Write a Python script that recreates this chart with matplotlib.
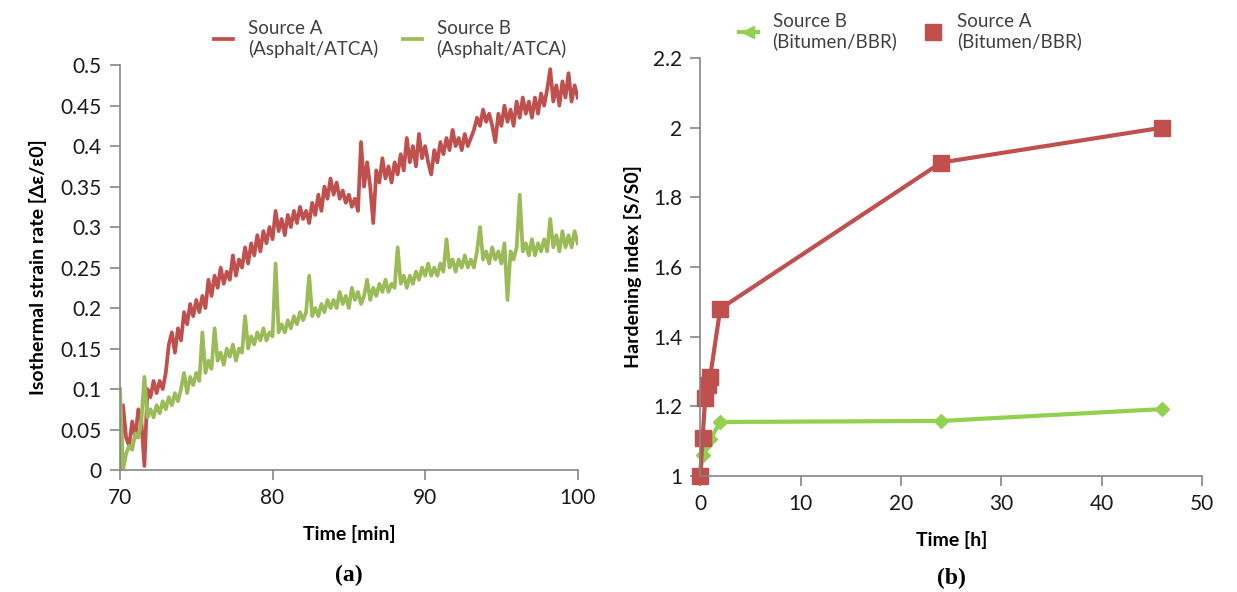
import numpy as np
import matplotlib.pyplot as plt
from matplotlib.lines import Line2D

plt.rcParams['font.family'] = ['Lato', 'DejaVu Sans']

# ---- (a) isothermal strain rate, asphalt / ATCA ----
time_min = np.round(np.arange(70.0, 100.01, 0.2), 1)

rate_a = [
    0.00, 0.08, 0.04, 0.03, 0.06, 0.04, 0.075, 0.06, 0.005, 0.10,
    0.09, 0.11, 0.095, 0.11, 0.10, 0.12, 0.155, 0.17, 0.145, 0.175,
    0.16, 0.195, 0.18, 0.205, 0.19, 0.21, 0.195, 0.215, 0.20, 0.235,
    0.215, 0.24, 0.225, 0.25, 0.23, 0.245, 0.235, 0.265, 0.24, 0.26,
    0.25, 0.275, 0.255, 0.28, 0.265, 0.29, 0.27, 0.295, 0.28, 0.30,
    0.285, 0.32, 0.295, 0.31, 0.29, 0.315, 0.30, 0.32, 0.305, 0.325,
    0.31, 0.32, 0.305, 0.33, 0.315, 0.34, 0.32, 0.35, 0.335, 0.36,
    0.34, 0.355, 0.335, 0.345, 0.33, 0.34, 0.325, 0.335, 0.32, 0.405,
    0.35, 0.38, 0.35, 0.305, 0.37, 0.355, 0.385, 0.36, 0.375, 0.355,
    0.38, 0.365, 0.39, 0.37, 0.41, 0.38, 0.40, 0.375, 0.415, 0.385,
    0.40, 0.38, 0.365, 0.395, 0.38, 0.405, 0.39, 0.41, 0.395, 0.42,
    0.40, 0.41, 0.395, 0.415, 0.40, 0.41, 0.42, 0.435, 0.425, 0.445,
    0.43, 0.44, 0.425, 0.405, 0.44, 0.425, 0.45, 0.43, 0.445, 0.425,
    0.455, 0.435, 0.46, 0.44, 0.455, 0.435, 0.46, 0.44, 0.465, 0.45,
    0.47, 0.495, 0.455, 0.475, 0.45, 0.48, 0.46, 0.49, 0.455, 0.475,
    0.46,
]

rate_b = [
    0.10, 0.00, 0.02, 0.03, 0.025, 0.045, 0.04, 0.06, 0.115, 0.065,
    0.075, 0.065, 0.08, 0.07, 0.085, 0.075, 0.09, 0.08, 0.095, 0.085,
    0.10, 0.12, 0.095, 0.115, 0.105, 0.12, 0.11, 0.17, 0.12, 0.135,
    0.125, 0.175, 0.135, 0.145, 0.13, 0.15, 0.14, 0.155, 0.135, 0.15,
    0.145, 0.19, 0.15, 0.165, 0.155, 0.17, 0.16, 0.175, 0.16, 0.17,
    0.165, 0.255, 0.17, 0.18, 0.17, 0.185, 0.175, 0.19, 0.18, 0.195,
    0.185, 0.195, 0.24, 0.19, 0.20, 0.19, 0.205, 0.195, 0.21, 0.20,
    0.21, 0.20, 0.22, 0.205, 0.215, 0.20, 0.225, 0.21, 0.22, 0.205,
    0.215, 0.235, 0.21, 0.225, 0.215, 0.23, 0.22, 0.235, 0.22, 0.23,
    0.225, 0.275, 0.23, 0.24, 0.225, 0.24, 0.23, 0.245, 0.235, 0.25,
    0.24, 0.255, 0.24, 0.25, 0.24, 0.255, 0.245, 0.285, 0.25, 0.26,
    0.245, 0.26, 0.25, 0.265, 0.25, 0.26, 0.25, 0.27, 0.30, 0.26,
    0.27, 0.255, 0.275, 0.26, 0.27, 0.255, 0.28, 0.21, 0.27, 0.26,
    0.275, 0.34, 0.27, 0.28, 0.265, 0.285, 0.265, 0.28, 0.27, 0.285,
    0.27, 0.31, 0.275, 0.29, 0.27, 0.295, 0.275, 0.29, 0.275, 0.295,
    0.28,
]

# ---- (b) hardening index, bitumen / BBR ----
hours_a = [0, 0.25, 0.5, 0.75, 1, 2, 24, 46]
index_a = [1.0, 1.11, 1.225, 1.26, 1.285, 1.48, 1.90, 2.0]
hours_b = [0, 0.25, 0.5, 1, 2, 24, 46]
index_b = [1.0, 1.06, 1.09, 1.105, 1.155, 1.158, 1.192]

red = '#C0504D'
green_a = '#9BBB59'
green_b = '#92D050'
grey = '#868686'

fig = plt.figure(figsize=(12.37, 5.92), dpi=100)
ax1 = fig.add_axes([0.097, 0.206, 0.370, 0.684])
ax2 = fig.add_axes([0.566, 0.196, 0.406, 0.706])


def excel_style(ax):
    for s in ['top', 'right']:
        ax.spines[s].set_visible(False)
    for s in ['left', 'bottom']:
        ax.spines[s].set_color(grey)
        ax.spines[s].set_linewidth(1.2)
    ax.tick_params(direction='out', color=grey, length=7, width=1.2,
                   labelsize=15, pad=6, labelcolor='#1a1a1a')


legend_kw = dict(loc='lower left', ncol=2, frameon=False, fontsize=13.5,
                 handlelength=1.0, handletextpad=0.8, labelcolor='#404040',
                 borderaxespad=0.2, borderpad=0.2)

ax1.plot(time_min, rate_a, color=red, lw=2.7, label='Source A\n(Asphalt/ATCA)')
ax1.plot(time_min, rate_b, color=green_a, lw=2.7, label='Source B\n(Asphalt/ATCA)')
ax1.set_xlim(70, 100)
ax1.set_ylim(0, 0.5)
ax1.set_xticks([70, 80, 90, 100])
ax1.set_yticks(np.arange(0, 0.51, 0.05))
ax1.set_yticklabels(['0', '0.05', '0.1', '0.15', '0.2', '0.25', '0.3',
                     '0.35', '0.4', '0.45', '0.5'])
excel_style(ax1)
ax1.set_xlabel('Time [min]', fontsize=14, fontweight='bold', labelpad=12)
ax1.set_ylabel('Isothermal strain rate [\u0394\u03b5/\u03b50]', fontsize=14,
               fontweight='bold', labelpad=10)
ax1.legend(bbox_to_anchor=(0.19, 1.0), columnspacing=1.3, **legend_kw)
ax1.text(0.5, -0.26, '(a)', transform=ax1.transAxes, ha='center', va='center',
         fontsize=17, fontweight='bold', family='Liberation Serif')

ax2.plot(hours_b, index_b, color=green_b, lw=3, marker='D', ms=7)
ax2.plot(hours_a, index_a, color=red, lw=3, marker='s', ms=11)
ax2.set_xlim(0, 50)
ax2.set_ylim(1, 2.2)
ax2.set_xticks(np.arange(0, 51, 10))
ax2.set_yticks([1, 1.2, 1.4, 1.6, 1.8, 2, 2.2])
ax2.set_yticklabels(['1', '1.2', '1.4', '1.6', '1.8', '2', '2.2'])
for ln in ax2.lines:
    ln.set_clip_on(False)
excel_style(ax2)
ax2.set_xlabel('Time [h]', fontsize=14, fontweight='bold', labelpad=12)
ax2.set_ylabel('Hardening index [S/S0]', fontsize=14, fontweight='bold',
               labelpad=8)
handles = [
    Line2D([], [], color=green_b, lw=3, marker='<', ms=9),
    Line2D([], [], color=red, lw=0, marker='s', ms=12),
]
ax2.legend(handles, ['Source B\n(Bitumen/BBR)', 'Source A\n(Bitumen/BBR)'],
           bbox_to_anchor=(0.062, 1.0), columnspacing=1.4, **legend_kw)
ax2.text(0.5, -0.245, '(b)', transform=ax2.transAxes, ha='center', va='center',
         fontsize=17, fontweight='bold', family='Liberation Serif')

fig.savefig('out.png', dpi=100)
